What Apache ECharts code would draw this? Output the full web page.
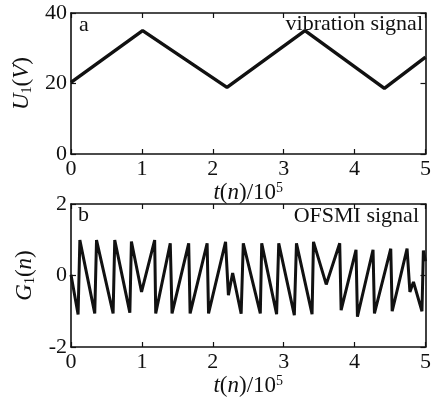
<!DOCTYPE html>
<html><head><meta charset="utf-8">
<script src="https://cdn.jsdelivr.net/npm/echarts@6/dist/echarts.min.js"></script>
<style>html,body{margin:0;padding:0;background:#fff}#c{width:434px;height:401px}</style>
</head><body><div id="c"></div>
<script>
// Panel a: vibration signal (vertices)
const vibT = [0, 1.01, 2.2, 3.3, 4.42, 5];
const vibU = [20.3, 35, 18.9, 35, 18.6, 27.5];
// Panel b: OFSMI signal (vertices)
const ofsT = [0.0, 0.10, 0.125, 0.335, 0.36, 0.594, 0.617, 0.83, 0.852, 0.995, 1.18, 1.195,
  1.40, 1.425, 1.66, 1.68, 1.92, 1.94, 2.18, 2.22, 2.28, 2.40, 2.43,
  2.67, 2.69, 2.90, 2.93, 3.15, 3.18, 3.40, 3.42, 3.60, 3.79, 3.81,
  4.02, 4.04, 4.26, 4.28, 4.51, 4.53, 4.74, 4.78, 4.83, 4.95, 4.97, 5.0];
const ofsG = [0.02, -1.09, 0.99, -1.06, 0.99, -1.06, 0.99, -1.04, 0.95, -0.46, 0.99, -1.06,
  0.90, -1.06, 0.90, -1.06, 0.90, -1.06, 0.94, -0.55, 0.07, -1.07, 0.90,
  -1.06, 0.90, -1.08, 0.90, -1.11, 0.90, -1.08, 0.94, -0.25, 0.90, -0.97,
  0.72, -1.15, 0.72, -1.06, 0.75, -1.0, 0.75, -0.46, -0.18, -1.0, 0.7, 0.4];
const xTicks = {min: 0, max: 5, interval: 1};
const yTicksA = {min: 0, max: 40, interval: 20};
const yTicksB = {min: -2, max: 2, interval: 2};

const FONT = 'Liberation Serif';
const chart = echarts.init(document.getElementById('c'), null, {renderer: 'canvas'});
const line = {show: true, onZero: false, lineStyle: {color: '#111', width: 1.6}};
const tick = {show: true, inside: true, length: 5, lineStyle: {color: '#111', width: 1.2}};
const lab = {color: '#111', fontFamily: FONT, fontSize: 22};
const rich = {
  i: {fontStyle: 'italic', fontFamily: FONT, fontSize: 23, color: '#111'},
  n: {fontFamily: FONT, fontSize: 23, color: '#111'},
  sub: {fontFamily: FONT, fontSize: 14, color: '#111', verticalAlign: 'bottom', padding: [10, 0, 0, 0]},
  sup: {fontFamily: FONT, fontSize: 14, color: '#111', verticalAlign: 'top', padding: [0, 0, 10, 0]}
};
const tName = '{i|t}{n|(}{i|n}{n|)/10}{sup|5}';
function xa(grid, pos, show, name) {
  return Object.assign({type: 'value', gridIndex: grid, position: pos}, xTicks, {
    axisLine: line, axisTick: tick, splitLine: {show: false},
    axisLabel: Object.assign({show: show, margin: 4}, lab),
    name: name || '', nameLocation: 'middle', nameGap: 23, nameTextStyle: {rich: rich}
  });
}
function ya(grid, pos, show, t, name) {
  return Object.assign({type: 'value', gridIndex: grid, position: pos}, t, {
    axisLine: line, axisTick: tick, splitLine: {show: false},
    axisLabel: Object.assign({show: show, margin: 4}, lab),
    name: name || '', nameLocation: 'middle', nameGap: 34, nameRotate: 90, nameTextStyle: {rich: rich}
  });
}
chart.setOption({
  animation: false,
  backgroundColor: '#fff',
  grid: [
    {left: 71, right: 7, top: 13, height: 141},
    {left: 71, right: 7, top: 204, height: 143}
  ],
  xAxis: [xa(0, 'bottom', true, tName), xa(0, 'top', false), xa(1, 'bottom', true, tName), xa(1, 'top', false)],
  yAxis: [ya(0, 'left', true, yTicksA, '{i|U}{sub|1}{n|(}{i|V}{n|)}'), ya(0, 'right', false, yTicksA),
          ya(1, 'left', true, yTicksB, '{i|G}{sub|1}{n|(}{i|n}{n|)}'), ya(1, 'right', false, yTicksB)],
  series: [
    {type: 'line', xAxisIndex: 0, yAxisIndex: 0, showSymbol: false, silent: true,
     data: vibT.map((t, k) => [t, vibU[k]]), lineStyle: {color: '#111', width: 3.4}},
    {type: 'line', xAxisIndex: 2, yAxisIndex: 2, showSymbol: false, silent: true,
     data: ofsT.map((t, k) => [t, ofsG[k]]), lineStyle: {color: '#111', width: 3}}
  ],
  graphic: [
    {type: 'text', left: 79, top: 14, style: {text: 'a', font: '22px "Liberation Serif"', fill: '#111'}},
    {type: 'text', right: 11, top: 13, style: {text: 'vibration signal', font: '22px "Liberation Serif"', fill: '#111'}},
    {type: 'text', left: 78, top: 204, style: {text: 'b', font: '22px "Liberation Serif"', fill: '#111'}},
    {type: 'text', right: 15, top: 205, style: {text: 'OFSMI signal', font: '22px "Liberation Serif"', fill: '#111'}}
  ]
});
</script></body></html>
